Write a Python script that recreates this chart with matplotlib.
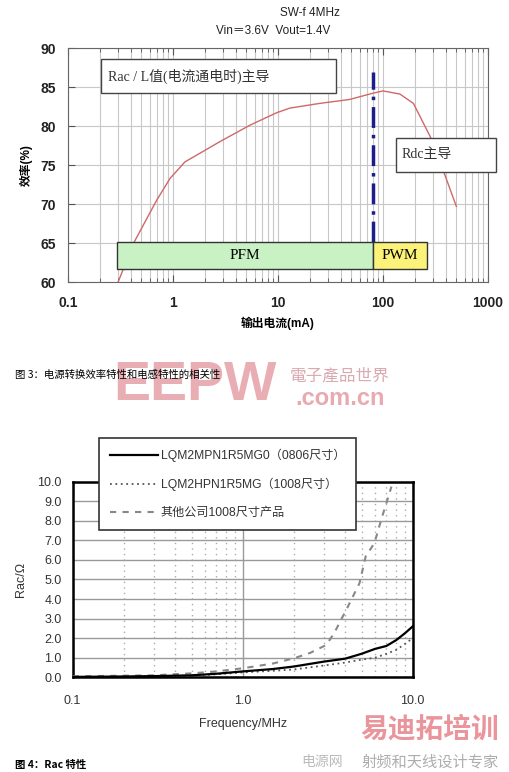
import numpy as np
import matplotlib
matplotlib.use('Agg')
import matplotlib.pyplot as plt
from matplotlib.patches import Rectangle
from matplotlib.ticker import NullFormatter

plt.rcParams['font.family'] = ['Liberation Sans', 'Noto Sans CJK SC', 'DejaVu Sans']
plt.rcParams['axes.unicode_minus'] = False

# --- chart 1: efficiency vs output current ---
eff_current = [0.3, 0.43, 0.7, 0.94, 1.3, 1.8, 2.8, 5.4, 9.7, 13, 25, 48, 80, 100, 145, 195, 283, 373, 500]
eff_value   = [60, 65.2, 70.5, 73.3, 75.4, 76.5, 78, 80.1, 81.7, 82.3, 82.9, 83.4, 84.2, 84.5, 84.1, 82.9, 78.6, 74.4, 69.7]
mode_switch = 80
eff_xticks  = [0.1, 1, 10, 100, 1000]
eff_xlabels = ['0.1', '1', '10', '100', '1000']
eff_yticks  = [60, 65, 70, 75, 80, 85, 90]

# --- chart 2: Rac vs frequency ---
freq      = [0.1, 0.2, 0.3, 0.5, 0.7, 1.0, 1.5, 2.0, 3.0, 4.0, 5.0, 6.0, 7.0, 8.0, 9.0, 10.0]
rac_0806  = [0.02, 0.04, 0.06, 0.1, 0.18, 0.3, 0.42, 0.55, 0.8, 0.95, 1.2, 1.45, 1.6, 1.9, 2.25, 2.6]
rac_1008  = [0.01, 0.03, 0.05, 0.08, 0.15, 0.25, 0.33, 0.4, 0.6, 0.75, 0.9, 1.0, 1.2, 1.4, 1.7, 2.0]
other_f   = [0.1, 0.2, 0.3, 0.5, 0.7, 1.0, 1.5, 2.0, 2.5, 3.1, 3.45, 4.15, 4.86, 5.3, 5.95, 6.5, 7.0, 7.5]
other_rac = [0.05, 0.08, 0.1, 0.2, 0.3, 0.46, 0.7, 0.97, 1.25, 1.65, 2.25, 3.6, 4.8, 6.2, 6.85, 8.0, 8.9, 9.75]
rac_labels = ['LQM2MPN1R5MG0（0806尺寸）', 'LQM2HPN1R5MG（1008尺寸）', '其他公司1008尺寸产品']
rac_xticks  = [0.1, 1.0, 10.0]
rac_xlabels = ['0.1', '1.0', '10.0']
rac_yticks  = list(range(0, 11))

fig = plt.figure(figsize=(5.09, 7.72), dpi=100)

# ======== top chart ========
ax1 = fig.add_axes([0.1336, 0.6347, 0.825, 0.3031])
ax1.set_xscale('log')
ax1.set_xlim(0.1, 1000)
ax1.set_ylim(60, 90)
ax1.set_yticks(eff_yticks)
ax1.set_xticks(eff_xticks)
ax1.set_xticklabels(eff_xlabels)
ax1.xaxis.set_minor_formatter(NullFormatter())
ax1.grid(True, which='both', axis='x', color='#c8c8c8', lw=0.8)
ax1.grid(True, which='major', axis='y', color='#c8c8c8', lw=0.8)
ax1.tick_params(which='both', direction='in', top=True, colors='#555555', labelcolor='#222222')
ax1.tick_params(which='major', length=5)
ax1.tick_params(which='minor', length=3)
ax1.tick_params(axis='x', which='major', pad=10)
ax1.tick_params(axis='y', which='major', pad=9)
for lab in ax1.get_xticklabels() + ax1.get_yticklabels():
    lab.set_fontsize(10)
    lab.set_fontweight('bold')
for s in ax1.spines.values():
    s.set_color('#666666')

ax1.plot(eff_current, eff_value, color='#d06868', lw=1.0, zorder=3)
ax1.plot([mode_switch, mode_switch], [65.1, 86.9], color='#1c1c8a', lw=2.5,
         ls=(0, (6, 2, 1, 2)), zorder=4)

# mode boxes
ax1.add_patch(Rectangle((0.295, 61.63), mode_switch - 0.295, 3.54, facecolor='#c9f2c4',
                        edgecolor='#333333', lw=1.0, zorder=5))
ax1.add_patch(Rectangle((mode_switch, 61.63), 264 - mode_switch, 3.54, facecolor='#fbf27a',
                        edgecolor='#333333', lw=1.0, zorder=5))
ax1.text(np.sqrt(0.295 * mode_switch), 63.4, 'PFM', ha='center', va='center', fontsize=11,
         family=['Liberation Serif', 'Noto Sans CJK SC'], zorder=6)
ax1.text(np.sqrt(mode_switch * 264), 63.4, 'PWM', ha='center', va='center', fontsize=11,
         family=['Liberation Serif', 'Noto Sans CJK SC'], zorder=6)

ax1.add_patch(Rectangle((0.205, 84.27), 35.4 - 0.205, 4.28, facecolor='white',
                        edgecolor='#444444', lw=1.0, zorder=5))
ax1.text(0.24, 86.4, 'Rac / L值(电流通电时)主导', ha='left', va='center', fontsize=10,
         family=['Liberation Serif', 'Noto Sans CJK SC'], color='#333333', zorder=6)
ax1.add_patch(Rectangle((133, 74.06), 1183 - 133, 4.34, facecolor='white',
                        edgecolor='#444444', lw=1.0, zorder=5, clip_on=False))
ax1.text(150, 76.3, 'Rdc主导', ha='left', va='center', fontsize=10,
         family=['Liberation Serif', 'Noto Sans CJK SC'], color='#333333', zorder=6)

ax1.set_xlabel('输出电流(mA)', fontsize=8.5, fontweight='bold', labelpad=5)
ax1.set_ylabel('效率(%)', fontsize=8.5, fontweight='bold', labelpad=5)
fig.text(310 / 509, 1 - 13 / 772, 'SW-f 4MHz', ha='center', va='center', fontsize=8.5,
         color='#222222')
fig.text(273 / 509, 1 - 31 / 772, 'Vin＝3.6V  Vout=1.4V', ha='center', va='center',
         fontsize=8.5, color='#222222')

# caption + watermark
fig.text(15 / 509, 1 - 375 / 772, '图 3：电源转换效率特性和电感特性的相关性', ha='left',
         va='center', fontsize=7.5, family=['Noto Sans CJK SC', 'DejaVu Sans'], zorder=10)
fig.text(195 / 509, 1 - 386 / 772, 'EEPW', ha='center', va='center', fontsize=40,
         fontweight='bold', color='#e49aa2', alpha=0.8, zorder=1)
fig.text(340 / 509, 1 - 376 / 772, '電子產品世界', ha='center', va='center', fontsize=12,
         color='#d9aab0', family=['Noto Sans CJK TC'], zorder=1)
fig.text(340 / 509, 1 - 398 / 772, '.com.cn', ha='center', va='center', fontsize=17,
         fontweight='bold', color='#e49aa2', alpha=0.85, zorder=1)

# ======== bottom chart ========
ax2 = fig.add_axes([0.1428, 0.1227, 0.668, 0.2534])
ax2.set_xscale('log')
ax2.set_xlim(0.1, 10)
ax2.set_ylim(0, 10)
ax2.set_yticks(rac_yticks)
ax2.set_yticklabels([f'{v:.1f}' for v in rac_yticks])
ax2.set_xticks(rac_xticks)
ax2.set_xticklabels(rac_xlabels)
ax2.xaxis.set_minor_formatter(NullFormatter())
ax2.grid(True, which='major', axis='y', color='#9a9a9a', lw=1.0)
ax2.grid(True, which='major', axis='x', color='#9a9a9a', lw=1.0)
ax2.grid(True, which='minor', axis='x', color='#aaaaaa', lw=1.0, ls=(0, (1, 3)))
ax2.tick_params(which='both', length=0, labelsize=9, labelcolor='#333333')
ax2.tick_params(axis='x', pad=13)
ax2.tick_params(axis='y', pad=8)
for s in ax2.spines.values():
    s.set_color('black')
    s.set_linewidth(1.8)

ax2.plot(freq, rac_0806, color='black', lw=1.6, label=rac_labels[0], zorder=4)
ax2.plot(freq, rac_1008, color='#555555', lw=1.3, ls=(0, (1, 2)), label=rac_labels[1], zorder=3)
ax2.plot(other_f, other_rac, color='#888888', lw=1.5, ls=(0, (3, 3)), label=rac_labels[2], zorder=3)

leg = fig.legend(loc='upper left', bbox_to_anchor=(99 / 509, 1 - 438 / 772), fontsize=8.7,
                 handlelength=4.0, labelspacing=1.3, borderpad=0.9, handletextpad=0.2,
                 borderaxespad=0, fancybox=False, framealpha=1, edgecolor='#333333')
leg.get_frame().set_linewidth(1.2)
for t in leg.get_texts():
    t.set_color('#333333')

ax2.set_xlabel('Frequency/MHz', fontsize=9, color='#333333', labelpad=8)
ax2.set_ylabel('Rac/Ω', fontsize=9, color='#333333', labelpad=7)

fig.text(15 / 509, 1 - 765 / 772, '图 4：Rac 特性', ha='left', va='center', fontsize=7.5,
         fontweight='bold', family=['Noto Sans CJK SC', 'DejaVu Sans'])
fig.text(430 / 509, 1 - 730 / 772, '易迪拓培训', ha='center', va='center', fontsize=20,
         fontweight='bold', color='#e3707a', alpha=0.75, family=['Noto Sans CJK SC'])
fig.text(322 / 509, 1 - 762 / 772, '电源网', ha='center', va='center', fontsize=10,
         color='#bbbbbb', family=['Noto Sans CJK SC'])
fig.text(430 / 509, 1 - 762 / 772, '射频和天线设计专家', ha='center', va='center', fontsize=11,
         color='#999999', alpha=0.8, family=['Noto Sans CJK SC'])

fig.savefig('out.png', dpi=100)
